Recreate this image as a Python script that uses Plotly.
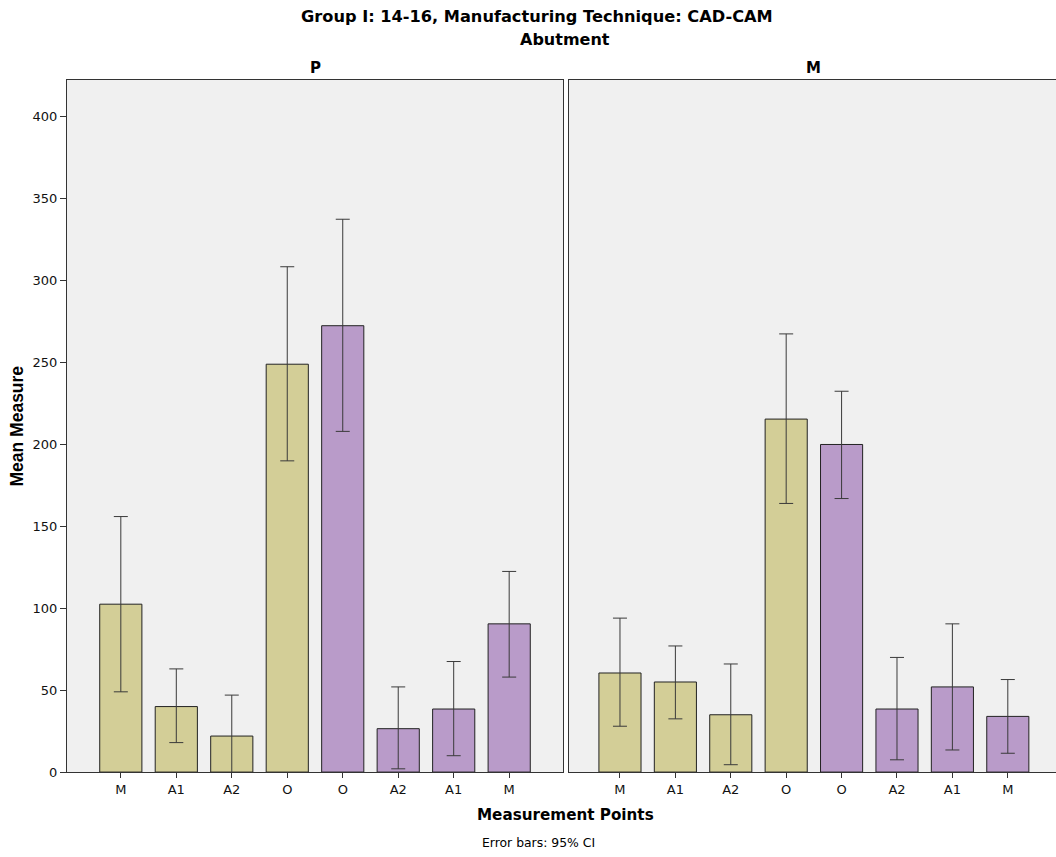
import plotly.graph_objects as go

categories = ["M", "A1", "A2", "O", "O", "A2", "A1", "M"]
group_colors = ["#D3CE97"] * 4 + ["#B99BC9"] * 4

p_means = [102.5, 40.0, 22.0, 249.0, 272.5, 26.5, 38.5, 90.5]
p_upper = [156.0, 63.0, 47.0, 308.5, 337.5, 52.0, 67.5, 122.5]
p_lower = [49.0, 18.0, -3.0, 190.0, 208.0, 2.0, 10.0, 58.0]

m_means = [60.5, 55.0, 35.0, 215.5, 200.0, 38.5, 52.0, 34.0]
m_upper = [94.0, 77.0, 66.0, 267.5, 232.5, 70.0, 90.5, 56.5]
m_lower = [28.0, 32.5, 4.5, 164.0, 167.0, 7.5, 13.5, 11.5]

panels = [("P", p_means, p_upper, p_lower), ("M", m_means, m_upper, m_lower)]

W, H = 1056, 857
HR = 850  # effective rendered height used for placement fractions
fig = go.Figure()
xs = list(range(len(categories)))

for i, (name, means, up, lo) in enumerate(panels):
    suffix = "" if i == 0 else "2"
    fig.add_trace(go.Bar(
        x=xs, y=means,
        xaxis="x" + suffix, yaxis="y" + suffix,
        marker=dict(color=group_colors, line=dict(color="#222222", width=1)),
        error_y=dict(type="data", symmetric=False,
                     array=[u - m for u, m in zip(up, means)],
                     arrayminus=[m - l for m, l in zip(means, lo)],
                     color="#3a3a3a", thickness=1, width=7),
        showlegend=False, hoverinfo="y",
    ))

def fy(y):
    return 1 - y / HR

ybot = fy(773)
ytop = fy(80)
yrange = [0, (773 - 80) / 1.64]

tickfont = dict(family="DejaVu Sans", size=13, color="#111111")
common_x = dict(tickmode="array", tickvals=xs, ticktext=categories,
                ticks="outside", ticklen=5, tickcolor="#333333",
                showline=True, linecolor="#333333", linewidth=1, mirror=True,
                showgrid=False, zeroline=False, tickfont=tickfont, fixedrange=True)

fig.update_layout(
    width=W, height=H,
    margin=dict(l=0, r=0, t=0, b=0),
    paper_bgcolor="white", plot_bgcolor="#F0F0F0",
    bargap=0.24,
    xaxis=dict(domain=[67 / W, 563 / W], range=[-0.97, 7.97], anchor="y", **common_x),
    xaxis2=dict(domain=[569 / W, 1.0], range=[-0.92, 7.87], anchor="y2", **common_x),
    yaxis=dict(domain=[ybot, ytop], range=yrange, anchor="x",
               tickvals=[0, 50, 100, 150, 200, 250, 300, 350, 400],
               ticks="outside", ticklen=6, tickcolor="#333333",
               showline=True, linecolor="#333333", linewidth=1, mirror=True,
               showgrid=False, zeroline=False, tickfont=tickfont),
    yaxis2=dict(domain=[ybot, ytop], range=yrange, anchor="x2",
                showticklabels=False, ticks="",
                showline=True, linecolor="#333333", linewidth=1, mirror=False,
                showgrid=False, zeroline=False),
    font=dict(family="Liberation Sans", color="black"),
)

ann = [
    dict(text="<b>Group I: 14-16, Manufacturing Technique: CAD-CAM</b>", x=537 / W, y=fy(17),
         font=dict(family="DejaVu Sans", size=16.2, color="black")),
    dict(text="<b>Abutment</b>", x=565 / W, y=fy(40),
         font=dict(family="DejaVu Sans", size=16, color="black")),
    dict(text="<b>P</b>", x=315 / W, y=fy(68), font=dict(family="DejaVu Sans", size=15, color="black")),
    dict(text="<b>M</b>", x=813 / W, y=fy(68), font=dict(family="DejaVu Sans", size=15, color="black")),
    dict(text="<b>Measurement Points</b>", x=565 / W, y=fy(816),
         font=dict(family="DejaVu Sans", size=15.2, color="black")),
    dict(text="Error bars: 95% CI", x=538 / W, y=fy(843), font=dict(family="DejaVu Sans", size=12.4, color="black")),
    dict(text="<b>Mean Measure</b>", x=17 / W, y=fy(427), textangle=-90,
         font=dict(family="Liberation Sans", size=17.5, color="black")),
]
for a in ann:
    a.update(xref="paper", yref="paper", showarrow=False, xanchor="center", yanchor="middle")
fig.update_layout(annotations=ann)

fig.write_html("out.html")
